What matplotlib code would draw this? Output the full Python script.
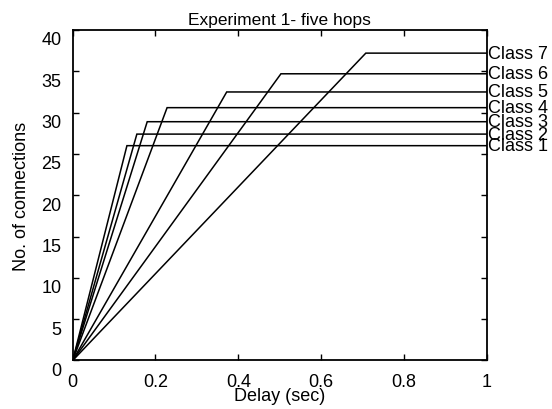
import matplotlib
matplotlib.use("Agg")
import matplotlib.pyplot as plt
from matplotlib.transforms import ScaledTranslation

plt.rcParams['font.family'] = ['Liberation Sans', 'DejaVu Sans']

# connections admitted per class vs. delay bound
classes = ["Class 1", "Class 2", "Class 3", "Class 4", "Class 5", "Class 6", "Class 7"]
knee_delay = [0.131, 0.155, 0.180, 0.228, 0.372, 0.503, 0.708]
max_conn = [26.0, 27.4, 28.9, 30.6, 32.5, 34.7, 37.2]

fig = plt.figure(figsize=(5.52, 4.10), dpi=100)
ax = fig.add_axes([0.1317, 0.1183, 0.75, 0.8061])

for name, xd, yc in zip(classes, knee_delay, max_conn):
    ax.plot([0, xd, 1], [0, yc, yc], color="black", lw=1.1, solid_joinstyle="miter")
    ax.text(1.003, yc, name, fontsize=13, ha="left", va="center", clip_on=False)

ax.set_xlim(0, 1)
ax.set_ylim(0, 40)
ax.set_xticks([0, 0.2, 0.4, 0.6, 0.8, 1])
ax.set_xticklabels(["0", "0.2", "0.4", "0.6", "0.8", "1"])
ax.set_yticks(range(0, 45, 5))
ax.tick_params(direction="in", length=4, width=1, top=True, right=True,
               labelsize=13, colors="black")
ax.tick_params(axis="x", pad=9)
ax.tick_params(axis="y", pad=8)
for s in ax.spines.values():
    s.set_linewidth(1.3)

# shift y tick labels down a little
shift = ScaledTranslation(0, -8 / 100, fig.dpi_scale_trans)
for lab in ax.get_yticklabels():
    lab.set_transform(lab.get_transform() + shift)

ax.set_title("Experiment 1- five hops", fontsize=12.5, pad=4)
ax.set_xlabel("Delay (sec)", fontsize=13, labelpad=-2)
ax.set_ylabel("No. of connections", fontsize=13, labelpad=8)

fig.savefig("out.png", dpi=100)
